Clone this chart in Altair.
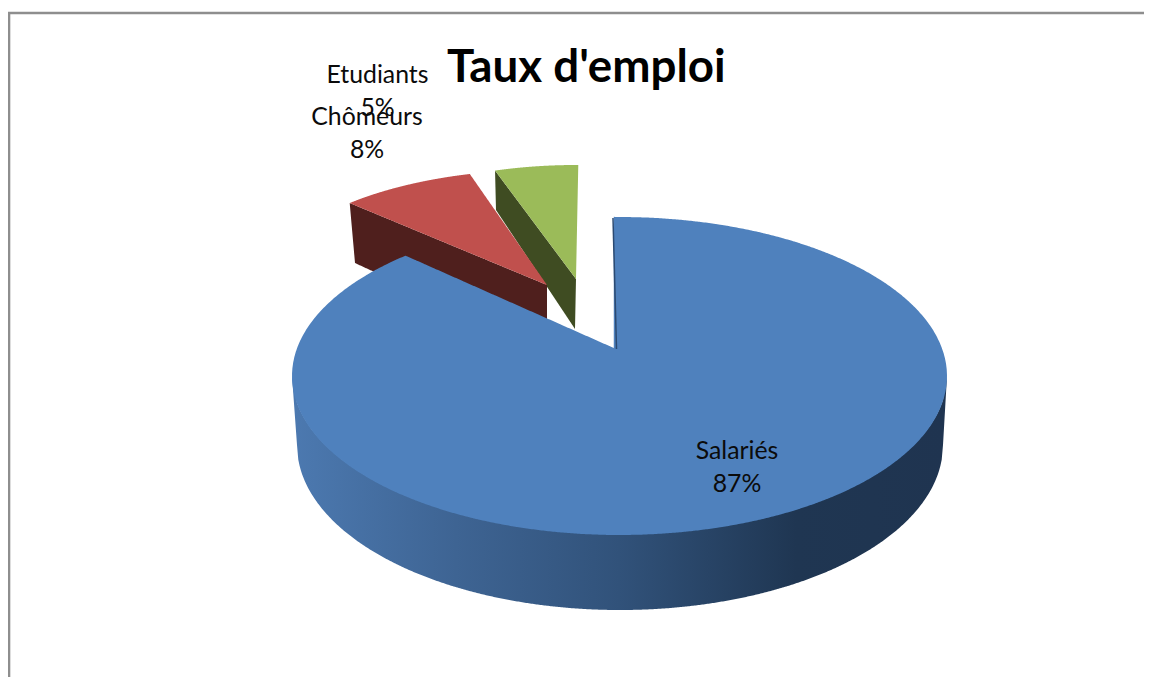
import numpy as np
import pandas as pd
import altair as alt

# ---- chart values ----
categories = ["Salariés", "Chômeurs", "Etudiants"]
shares = [87, 8, 5]
chart_title = "Taux d'emploi"

# ---- drawing set-up (page pixels used as the scale domain) ----
W, H = 1136, 669
FONT = "Lato"
X = alt.X("x:Q", scale=alt.Scale(domain=[8, 8 + W], range=[0, W], nice=False, zero=False), axis=None)
Y = alt.Y("y:Q", scale=alt.Scale(domain=[8 + H, 8], range=[H, 0], nice=False, zero=False), axis=None)
Y2 = alt.Y2("y2:Q")


def sweep(index):
    """Clockwise start and end angle of a slice, from the shares, in degrees."""
    total = sum(shares)
    start = 360 * sum(shares[:index]) / total
    return start, start + 360 * shares[index] / total


def arc(cx, cy, a, b, t0, t1, n=160):
    t = np.radians(np.linspace(t0, t1, n))
    return list(zip(cx + a * np.sin(t), cy - b * np.cos(t)))


def band(poly):
    """Turn a polygon into the x / upper / lower columns of an area mark."""
    p = np.array(poly + poly[:1])
    xs = np.unique(np.round(np.r_[p[:, 0], np.linspace(p[:, 0].min(), p[:, 0].max(), 400)], 2))
    rows = []
    for x in xs:
        ys = []
        for (x0, y0), (x1, y1) in zip(p[:-1], p[1:]):
            lo, hi = min(x0, x1), max(x0, x1)
            if lo - 0.01 <= x <= hi + 0.01:
                if abs(x1 - x0) < 1e-6:
                    ys += [y0, y1]
                else:
                    ys.append(y0 + (y1 - y0) * (x - x0) / (x1 - x0))
        if ys:
            rows.append({"x": float(x), "y": min(ys), "y2": max(ys)})
    return pd.DataFrame(rows)


def area(poly, fill):
    return alt.Chart(band(poly)).mark_area(fill=fill, interpolate="linear", clip=False).encode(x=X, y=Y, y2=Y2)


# main slice
s0, s1 = sweep(0)
main_top = [(616, 349)] + arc(619.5, 376, 327.5, 159, -1, s1 + 6)
main_xs = np.r_[292, np.linspace(297, 943, 500), 947]
top_low = 376 + 159 * np.sqrt(np.clip(1 - ((main_xs - 619.5) / 327.5) ** 2, 0, 1))
low_low = 445 + 165 * np.sqrt(np.clip(1 - ((main_xs - 620) / 323) ** 2, 0, 1))
low_low[0] = top_low[0]
low_low[-1] = top_low[-1]
wall_df = pd.DataFrame({"x": main_xs, "y": top_low - 1, "y2": np.maximum(low_low, top_low)})
wall_fill = alt.Gradient(
    gradient="linear", x1=0, x2=1, y1=0, y2=0,
    stops=[
        alt.GradientStop(offset=0, color="#4c79b0"),
        alt.GradientStop(offset=0.25, color="#3e6493"),
        alt.GradientStop(offset=0.5, color="#31527a"),
        alt.GradientStop(offset=0.77, color="#1f3652"),
        alt.GradientStop(offset=1, color="#1f3450"),
    ],
)
main_wall = alt.Chart(wall_df).mark_area(fill=wall_fill, clip=False).encode(x=X, y=Y, y2=Y2)

# second slice, pulled out
r0, r1 = sweep(1)
rc = (547, 285)
red_outer = arc(rc[0], rc[1], 280, 115.5, r0 - 360 + 2, r1 - 360 + 2)
red_top = [rc] + red_outer
red_wall = [red_outer[0], rc, (547, 345), (370, 270), (355, 263)]

# third slice, pulled out
g0, g1 = sweep(2)
gc = (576, 279)
green_outer = arc(gc[0], gc[1], 262, 114, g0 - 360, g1 - 360 + 0.5)
green_top = [gc] + green_outer
green_wall = [green_outer[0], gc, (575, 329), (496, 210)]

edge_df = pd.DataFrame({"x": [613, 616.5], "y": [218, 349]})
edge = alt.Chart(edge_df).mark_line(color="#2b4a72", strokeWidth=1.5, clip=False).encode(x=X, y=Y)

# frame of the picture
frame_df = pd.DataFrame({"x": [9, 9, 1152], "y": [677, 13, 13]})
frame = alt.Chart(frame_df).mark_line(color="#8e8e8e", strokeWidth=2.6, clip=False).encode(
    x=X, y=Y, order=alt.Order("ord:Q")
).transform_window(ord="row_number()")

# labels
label_xy = {"Etudiants": (377.5, 75.5), "Chômeurs": (367, 117.5), "Salariés": (737, 451.5)}
label_df = pd.DataFrame(
    [{"label": [c, f"{s}%"], "x": label_xy[c][0], "y": label_xy[c][1]} for c, s in zip(categories, shares)]
)
labels = alt.Chart(label_df).mark_text(
    font=FONT, fontSize=24.8, color="#0b0b0b", lineHeight=33, align="center", baseline="middle", clip=False
).encode(x=X, y=Y, text="label")

title_mark = alt.TitleParams(
    text=chart_title, font=FONT, fontSize=45.7, fontWeight="bold", color="#000000",
    anchor="start", frame="group", orient="top", dx=439, dy=84, offset=0,
)

chart = alt.layer(
    frame,
    area(green_wall, "#3f4c22"),
    area(green_top, "#9bbb59"),
    area(red_wall, "#4f1f1d"),
    area(red_top, "#c0504d"),
    main_wall,
    area(main_top, "#4f81bd"),
    edge,
    labels,
).properties(
    width=W, height=H, title=title_mark, padding=0, background="#ffffff",
    autosize=alt.AutoSizeParams(type="none"),
).configure_view(stroke=None)

chart.save("out.html", embed_options={"renderer": "svg", "actions": False})
